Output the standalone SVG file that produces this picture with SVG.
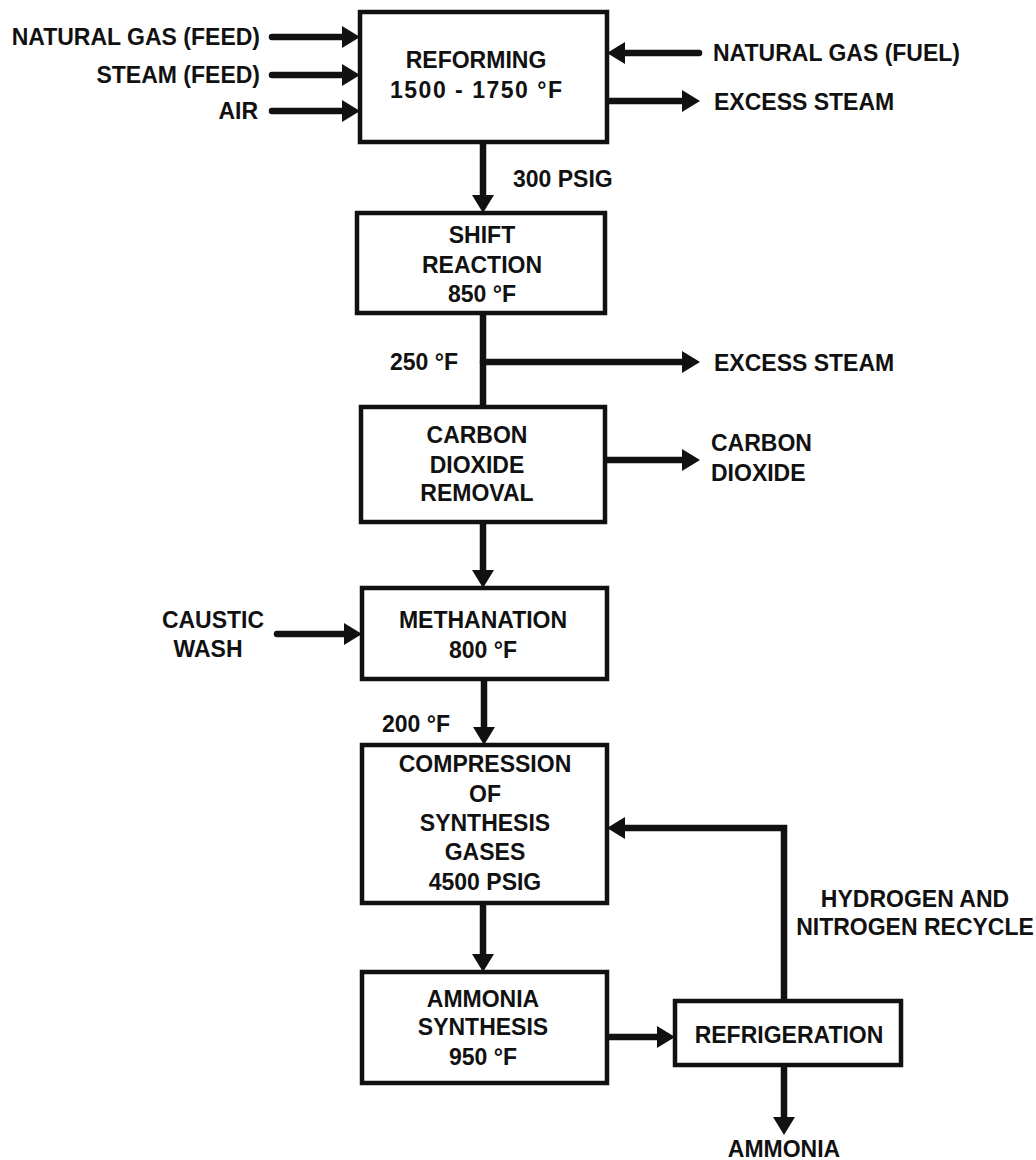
<svg xmlns="http://www.w3.org/2000/svg" width="1036" height="1160" viewBox="0 0 1036 1160">
<style>
text{font-family:"Liberation Sans",Arial,sans-serif;font-weight:bold;font-size:23px;fill:#111}
.c{text-anchor:middle}
.e{text-anchor:end}
.box{fill:#fff;stroke:#111;stroke-width:4.5}
.ln{fill:none;stroke:#111;stroke-width:6.5;stroke-linecap:round;stroke-linejoin:miter}
.ar{marker-end:url(#ah)}
</style>
<defs>
<marker id="ah" markerUnits="userSpaceOnUse" markerWidth="18" markerHeight="22" refX="8" refY="11" orient="auto">
<path d="M0,0 L18,11 L0,22 Z" fill="#111"/>
</marker>
</defs>
<rect width="1036" height="1160" fill="#fff"/>

<g id="connectors">
<path class="ln ar" d="M272,37 H350"/>
<path class="ln ar" d="M272,75 H350"/>
<path class="ln ar" d="M272,111 H350"/>
<path class="ln ar" d="M699,53 H617"/>
<path class="ln ar" d="M607,101 H690"/>
<path class="ln ar" d="M483,142 V203"/>
<path class="ln" d="M483,313 V407"/>
<path class="ln ar" d="M483,362 H690"/>
<path class="ln ar" d="M605,460 H690"/>
<path class="ln ar" d="M483,522 V578"/>
<path class="ln ar" d="M277,634 H352"/>
<path class="ln ar" d="M484,679 V735"/>
<path class="ln ar" d="M483,903 V962"/>
<path class="ln ar" d="M607,1037 H665"/>
<path class="ln ar" d="M784,1065 V1125"/>
<path class="ln ar" d="M784,1001 V828 H617"/>
</g>

<g id="labels">
<text class="e" x="260" y="45">NATURAL GAS (FEED)</text>
<text class="e" x="260" y="83">STEAM (FEED)</text>
<text class="e" x="258" y="119">AIR</text>
<text x="713" y="61">NATURAL GAS (FUEL)</text>
<text x="714" y="110">EXCESS STEAM</text>
<text x="513" y="187">300 PSIG</text>
<text class="e" x="458" y="370">250 °F</text>
<text x="714" y="371">EXCESS STEAM</text>
<text x="711" y="451">CARBON</text>
<text x="711" y="481">DIOXIDE</text>
<text class="c" x="213" y="628">CAUSTIC</text>
<text class="c" x="208" y="657">WASH</text>
<text x="382" y="732">200 °F</text>
<text class="c" x="915" y="907">HYDROGEN AND</text>
<text class="c" x="915" y="935">NITROGEN RECYCLE</text>
<text class="c" x="784" y="1157">AMMONIA</text>
</g>

<g id="reforming">
<rect class="box" x="360" y="12" width="247" height="130"/>
<text class="c" x="476" y="68">REFORMING</text>
<text class="c" x="476" y="98" textLength="172" lengthAdjust="spacing">1500 - 1750 °F</text>
</g>

<g id="shift">
<rect class="box" x="357" y="213" width="248" height="100"/>
<text class="c" x="482" y="243">SHIFT</text>
<text class="c" x="482" y="273">REACTION</text>
<text class="c" x="482" y="302">850 °F</text>
</g>

<g id="co2removal">
<rect class="box" x="361" y="407" width="244" height="115"/>
<text class="c" x="477" y="443">CARBON</text>
<text class="c" x="477" y="473">DIOXIDE</text>
<text class="c" x="477" y="501">REMOVAL</text>
</g>

<g id="methanation">
<rect class="box" x="362" y="588" width="245" height="91"/>
<text class="c" x="483" y="628">METHANATION</text>
<text class="c" x="483" y="658">800 °F</text>
</g>

<g id="compression">
<rect class="box" x="362" y="745" width="245" height="158"/>
<text class="c" x="485" y="772">COMPRESSION</text>
<text class="c" x="485" y="802">OF</text>
<text class="c" x="485" y="831">SYNTHESIS</text>
<text class="c" x="485" y="860">GASES</text>
<text class="c" x="485" y="890">4500 PSIG</text>
</g>

<g id="ammoniasynthesis">
<rect class="box" x="362" y="972" width="245" height="111"/>
<text class="c" x="483" y="1007">AMMONIA</text>
<text class="c" x="483" y="1035">SYNTHESIS</text>
<text class="c" x="483" y="1065">950 °F</text>
</g>

<g id="refrigeration">
<rect class="box" x="675" y="1001" width="226" height="64"/>
<text class="c" x="789" y="1043">REFRIGERATION</text>
</g>
</svg>
